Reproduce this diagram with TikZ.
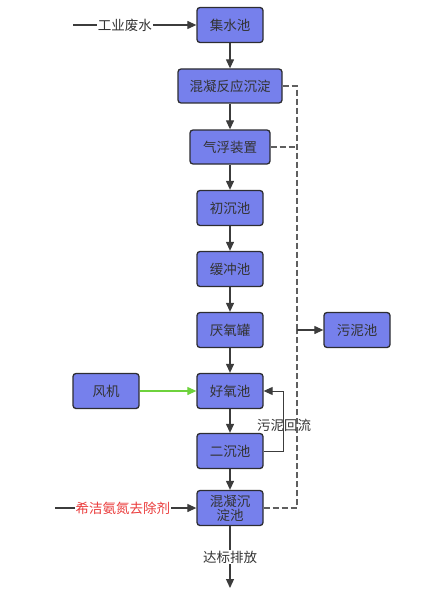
\documentclass[tikz,border=0pt]{standalone}
\usepackage{fontspec}
\setmainfont{Noto Sans CJK SC}
\usetikzlibrary{arrows.meta}
\definecolor{boxfill}{RGB}{118,128,236}
\definecolor{boxline}{RGB}{45,45,50}
\definecolor{lineg}{RGB}{60,60,60}
\definecolor{dashg}{RGB}{95,95,95}
\definecolor{greenl}{RGB}{110,210,60}
\definecolor{redt}{RGB}{235,60,60}
\tikzset{
  x=1pt,y=-1pt,
  proc/.style={draw=boxline,fill=boxfill,line width=1.3pt,rounded corners=3pt,
    minimum width=66pt,minimum height=35pt,inner sep=2pt,font=\fontsize{13.5}{15}\selectfont,
    text=black!80,align=center},
  flow/.style={draw=lineg,line width=1.2pt,-{Triangle[length=9pt,width=8pt]}},
  plain/.style={draw=lineg,line width=1.2pt},
  dashl/.style={draw=dashg,line width=1.6pt,dash pattern=on 6pt off 3pt},
  lbl/.style={fill=white,inner sep=1pt,font=\fontsize{13.5}{15}\selectfont,text=black!80}
}
\begin{document}
\begin{tikzpicture}
\useasboundingbox (0,0) rectangle (447,591);
\node[proc] (jsc) at (230,25) {集水池};
\node[proc,minimum width=104pt,minimum height=34pt] (hnfy) at (230,86) {混凝反应沉淀};
\node[proc,minimum width=80pt,minimum height=34pt] (qf) at (230,147) {气浮装置};
\node[proc] (cc) at (230,208) {初沉池};
\node[proc] (hc) at (230,269) {缓冲池};
\node[proc] (yy) at (230,330) {厌氧罐};
\node[proc] (hy) at (230,391) {好氧池};
\node[proc] (ec) at (230,451) {二沉池};
\node[proc,font=\fontsize{13.5}{14}\selectfont,inner sep=1pt] (hncd) at (230,508) {混凝沉\\淀池};
\node[proc] (wn) at (357,330) {污泥池};
\node[proc] (fj) at (106,391) {风机};

% inflow
\coordinate (in1) at (73,25);
\draw[flow] (in1) -- (jsc.west) node[lbl,pos=0.42] (l1) {工业废水};
% main chain
\draw[flow] (jsc) -- (hnfy);
\draw[flow] (hnfy) -- (qf);
\draw[flow] (qf) -- (cc);
\draw[flow] (cc) -- (hc);
\draw[flow] (hc) -- (yy);
\draw[flow] (yy) -- (hy);
\draw[flow] (hy) -- (ec);
\draw[flow] (ec) -- (hncd);
% air
\draw[draw=greenl,line width=1.2pt,-{Triangle[length=9pt,width=8pt]}] (fj) -- (hy);
% sludge return
\coordinate (r1) at (283,451);
\coordinate (r2) at (283,391);
\draw[flow,line width=1pt] (ec.east) -- (r1) -- (r2) -- (hy.east);
\node[lbl,fill=none] (l2) at (284,425) {污泥回流};
% chemical
\coordinate (in2) at (55,508);
\draw[flow] (in2) -- (hncd.west) node[lbl,pos=0.48,text=redt] (l3) {希洁氨氮去除剂};
% discharge
\coordinate (out) at (230,588);
\draw[flow] (hncd.south) -- (out) node[lbl,pos=0.5] (l4) {达标排放};
% dashed sludge lines
\coordinate (d1) at (297,86);
\coordinate (d2) at (297,147);
\coordinate (d3) at (297,330);
\coordinate (d4) at (297,508);
\draw[dashl] (hnfy.east) -- (d1) -- (d3);
\draw[dashl] (qf.east) -- (d2);
\draw[dashl] (hncd.east) -- (d4) -- (d3);
\draw[flow] (d3) -- (wn.west);
\end{tikzpicture}
\end{document}
